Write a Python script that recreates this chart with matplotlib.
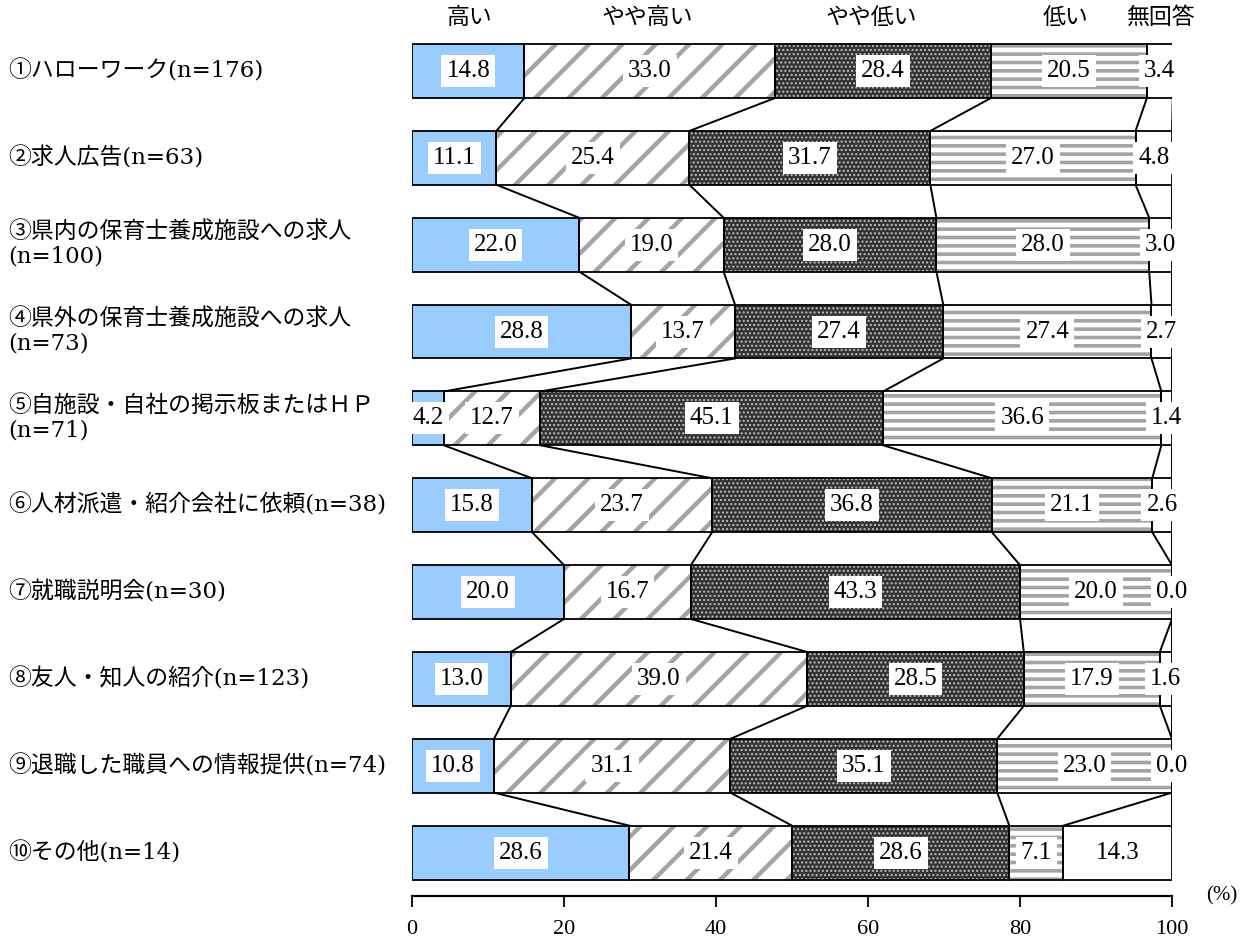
import matplotlib
matplotlib.use("Agg")
import matplotlib.pyplot as plt
import numpy as np

categories = [
    "①ハローワーク(n=176)",
    "②求人広告(n=63)",
    "③県内の保育士養成施設への求人\n(n=100)",
    "④県外の保育士養成施設への求人\n(n=73)",
    "⑤自施設・自社の掲示板またはＨＰ\n(n=71)",
    "⑥人材派遣・紹介会社に依頼(n=38)",
    "⑦就職説明会(n=30)",
    "⑧友人・知人の紹介(n=123)",
    "⑨退職した職員への情報提供(n=74)",
    "⑩その他(n=14)",
]
series_names = ["高い", "やや高い", "やや低い", "低い", "無回答"]
high      = [14.8, 11.1, 22.0, 28.8, 4.2, 15.8, 20.0, 13.0, 10.8, 28.6]
some_high = [33.0, 25.4, 19.0, 13.7, 12.7, 23.7, 16.7, 39.0, 31.1, 21.4]
some_low  = [28.4, 31.7, 28.0, 27.4, 45.1, 36.8, 43.3, 28.5, 35.1, 28.6]
low       = [20.5, 27.0, 28.0, 27.4, 36.6, 21.1, 20.0, 17.9, 23.0, 7.1]
no_answer = [3.4, 4.8, 3.0, 2.7, 1.4, 2.6, 0.0, 1.6, 0.0, 14.3]
xticks = [0, 20, 40, 60, 80, 100]

series = [high, some_high, some_low, low, no_answer]
JP = ["Noto Sans CJK JP"]
CAT = ["DejaVu Serif", "Noto Sans CJK JP"]
NUM = ["Liberation Serif"]

styles = [
    dict(face="#99ccff", hatch=None, hcolor=None, hlw=1.0),
    dict(face="white", hatch="/", hcolor="#a4a4a4", hlw=3.2),
    dict(face="#333333", hatch="....", hcolor="#c0c0c0", hlw=1.0),
    dict(face="white", hatch="--", hcolor="#a4a4a4", hlw=2.6),
    dict(face="white", hatch=None, hcolor=None, hlw=1.0),
]

fig = plt.figure(figsize=(12.45, 9.38), dpi=100)
ax = fig.add_axes([412/1245, 42/938, 760/1245, 868.4/938])

n = len(categories)
y = np.arange(n)
h = 0.62
data = np.array(series)
cum = np.cumsum(data, axis=0)
left = np.vstack([np.zeros(n), cum[:-1]])

for k, (vals, st) in enumerate(zip(series, styles)):
    if st["hatch"]:
        plt.rcParams["hatch.linewidth"] = st["hlw"]
        bars = ax.barh(y, vals, left=left[k], height=h, color=st["face"],
                       edgecolor=st["hcolor"], linewidth=0, hatch=st["hatch"], zorder=1)
        for b in bars:
            try:
                b.set_hatch_linewidth(st["hlw"])
            except Exception:
                pass
    else:
        ax.barh(y, vals, left=left[k], height=h, color=st["face"], linewidth=0, zorder=1)
    ax.barh(y, vals, left=left[k], height=h, fill=False, edgecolor="black",
            linewidth=1.3, zorder=2)
    for i, v in enumerate(vals):
        ax.text(left[k][i] + v / 2, y[i], f"{v:.1f}", ha="center", va="center",
                fontsize=18, family=NUM, zorder=4,
                bbox=dict(boxstyle="square,pad=0.2", fc="white", ec="none"))

# connectors between bars
for i in range(n - 1):
    for k in range(len(series)):
        ax.plot([cum[k][i], cum[k][i + 1]], [y[i] + h / 2, y[i + 1] - h / 2],
                color="black", linewidth=1.4, zorder=1.5)

# header labels
header_x = [7.5, 31.0, 60.5, 86.0, 98.5]
for name, hx in zip(series_names, header_x):
    ax.text(hx, -0.62, name, ha="center", va="center", fontsize=16.5, family=JP)

# category labels
ax.set_yticks([])
for i, c in enumerate(categories):
    ax.annotate(c, xy=(0, y[i]), xycoords="data", xytext=(8, 0),
                textcoords=("figure pixels", "offset pixels"), ha="left", va="center",
                fontsize=16.5, family=CAT, linespacing=1.1)

ax.set_xlim(0, 100)
ax.set_ylim(n - 0.5, -0.5)
ax.set_xticks(xticks)
ax.set_xticklabels([str(t) for t in xticks], family=NUM, fontsize=16)
ax.tick_params(axis="x", direction="out", length=8, width=1.3, pad=9)
for s in ["top", "left", "right"]:
    ax.spines[s].set_visible(False)
ax.spines["bottom"].set_linewidth(1.6)
ax.text(1.045, 0.0, "(%)", transform=ax.transAxes, ha="left", va="center",
        fontsize=15, family=NUM)

fig.savefig("out.png", dpi=100)
